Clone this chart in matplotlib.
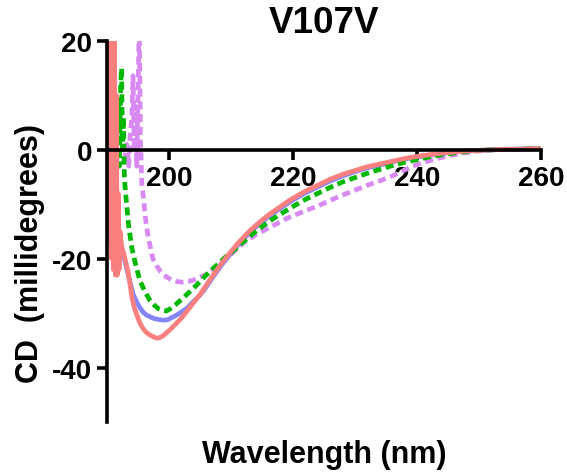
import matplotlib.pyplot as plt
import numpy as np

plt.rcParams['font.family'] = ['Liberation Sans', 'DejaVu Sans']
plt.rcParams['font.weight'] = 'bold'
plt.rcParams['axes.unicode_minus'] = False

# wavelength (nm) and CD (millidegrees) for each sample
red_w = [190.0, 190.15, 190.3, 190.45, 190.6, 190.75, 190.9, 191.05, 191.2, 191.35,
         191.5, 191.65, 191.8, 191.95, 192.1, 192.4, 192.7, 193.0, 193.4, 193.7,
         194.0, 194.4, 194.8, 195.3, 195.8, 196.3, 196.9, 197.4, 198.0, 198.5,
         199.0, 199.6, 200.2, 201, 202, 203, 204, 205, 206, 207, 208, 209, 210,
         211, 212, 213, 214, 215, 216, 217, 218, 219, 220, 222, 224, 226, 228,
         230, 232, 234, 236, 238, 240, 242, 244, 246, 248, 250, 252, 254, 256,
         258, 260]
red_v = [2, -8, 22, -15, 22, -20, 22, -22, 22, -23,
         10, -23, -8, -22, -15, -18, -19, -20.5, -22.5, -24.5,
         -27, -29, -30.3, -31.8, -32.8, -33.5, -34, -34.3, -34.6, -34.5,
         -34.2, -33.6, -33, -32.1, -30.9, -29.5, -28, -26.6, -24.9, -23.2, -21.6, -20.1, -18.7,
         -17.3, -16.1, -14.9, -13.9, -12.9, -12, -11.2, -10.4, -9.6, -8.9, -7.6, -6.5, -5.4, -4.5,
         -3.8, -3.1, -2.6, -2.1, -1.6, -1.2, -0.9, -0.6, -0.4, -0.2, -0.1, 0, 0.1, 0.1,
         0.2, 0.2]

blue_w = [190.0, 190.1, 190.25, 190.4, 190.55, 190.7, 190.85, 191.0, 191.2, 191.4,
          191.6, 191.8, 192.1, 192.4, 192.7, 193.0, 193.4, 193.7, 194.2, 194.8,
          195.3, 195.8, 196.3, 197.0, 197.6, 198.5, 199.2, 199.8, 200.5, 201,
          202, 203, 204, 205, 206, 207, 208, 209, 210, 211, 212, 213, 214, 215,
          216, 217, 218, 219, 220, 222, 224, 226, 228, 230, 232, 234, 236, 238,
          240, 242, 244, 246, 248, 250, 252, 254, 256, 258, 260]
blue_v = [-5, 15, -10, 8, -17, 3, -15, -5, -18, -12,
          -20, -16, -17, -18, -19.5, -21, -22.8, -24.2, -26.5, -28,
          -29, -29.8, -30.3, -30.7, -31, -31.2, -31.3, -31.2, -30.8, -30.5,
          -29.8, -29, -27.8, -26.7, -25.2, -23.5, -21.9, -20.4, -19, -17.6, -16.4, -15.2, -14.2, -13.2,
          -12.3, -11.5, -10.7, -9.9, -9.2, -7.9, -6.8, -5.7, -4.8, -4.0, -3.3, -2.8, -2.2, -1.7,
          -1.3, -1.0, -0.7, -0.4, -0.2, -0.1, 0, 0.1, 0.1, 0.2, 0.2]

green_w = [191.6, 191.8, 192.0, 192.2, 192.35, 192.5, 192.65, 192.8, 193.0, 193.5,
           194.0, 194.6, 195.3, 196.1, 196.9, 197.6, 198.3, 199.0, 199.6, 200.2,
           201, 202.3, 203.4, 204.5, 205.3, 206.1, 207, 208, 209, 210, 211, 212,
           213, 214, 215, 216, 217, 218, 219, 220, 222, 224, 226, 228, 230, 232,
           234, 236, 238, 240, 242, 244, 246, 248, 250, 252, 254, 256, 258, 260]
green_v = [2, 8, -3, 12, 15, 0, 6, -5, -8, -14,
           -18, -21, -24, -26, -27.6, -28.5, -29.2, -29.5, -29.6, -29.2,
           -28.5, -27.2, -26, -24.8, -23.8, -22.9, -21.9, -20.9, -19.8, -18.9, -17.9, -16.9,
           -15.9, -15, -14.1, -13.3, -12.5, -11.8, -11.1, -10.4, -9.1, -8, -6.9, -5.9, -5.1, -4.3,
           -3.6, -2.9, -2.3, -1.8, -1.3, -0.9, -0.6, -0.3, -0.1, 0, 0.1, 0.1, 0.2, 0.2]

violet_w = [192.8, 193.2, 193.5, 193.7, 194.0, 194.2, 194.4, 194.6, 194.8, 195.0,
            195.2, 195.4, 195.6, 195.9, 196.2, 196.5, 197.0, 197.4, 198.0, 198.6,
            199.2, 199.8, 200.5, 201.3, 202.2, 203.1, 204, 205, 206, 207, 208, 209,
            210, 211, 212, 213, 214, 215, 216, 217, 218, 219, 220, 222, 224, 226,
            228, 230, 232, 234, 236, 238, 240, 242, 244, 246, 248, 250, 252, 254,
            256, 258, 260]
violet_v = [-2, 1, -3, 2, 6, 13.6, 0, 8, -3, 10,
            24, 2, -6, -9, -12.5, -15, -18, -20, -21.3, -22.3,
            -23, -23.5, -23.9, -24.2, -24.3, -24.2, -23.9, -23.4, -22.9, -22.1, -21.2, -20.2,
            -19.2, -18.1, -17.1, -16.4, -15.6, -15, -14.4, -13.8, -13.2, -12.6, -12.1, -11.2, -10.3, -9.3,
            -8.3, -7.4, -6.5, -5.7, -4.8, -3.7, -2.7, -2, -1.4, -0.9, -0.5, -0.2, 0, 0.1,
            0.1, 0.2, 0.2]

fig = plt.figure(figsize=(5.67, 4.77), dpi=100)
ax = fig.add_axes([0.1887, 0.1132, 0.7655, 0.7988])

lw = 3.4
ax.plot(violet_w, violet_v, color='#D98AF2', lw=lw, dashes=(1.7, 1.0))
ax.plot(blue_w, blue_v, color='#8585FA', lw=lw)
ax.plot(green_w, green_v, color='#00B800', lw=lw, dashes=(1.7, 1.0))
ax.plot(red_w, red_v, color='#FA8080', lw=lw)

ax.set_xlim(190, 260)
ax.set_ylim(-50, 20)
ax.set_xticks([200, 220, 240, 260])
ax.set_yticks([20, 0, -20, -40])

ax.spines['top'].set_visible(False)
ax.spines['right'].set_visible(False)
ax.spines['bottom'].set_position(('data', 0))
ax.spines['left'].set_linewidth(2.6)
ax.spines['bottom'].set_linewidth(2.6)
ax.tick_params(width=2.6, length=7.2, labelsize=20, direction='out')
for lab in ax.get_xticklabels() + ax.get_yticklabels():
    lab.set_fontweight('bold')

ax.set_title('V107V', fontsize=26.5, fontweight='bold', y=1.0236, pad=0)
ax.set_xlabel('Wavelength (nm)', fontsize=22, fontweight='bold')
ax.xaxis.set_label_coords(0.5, -0.084)
ax.xaxis.label.set_va('center')
ax.set_ylabel('CD  (millidegrees)', fontsize=22, fontweight='bold')
ax.yaxis.set_label_coords(-0.177, 0.446)
ax.yaxis.label.set_va('center')

fig.savefig('out.png', dpi=100)
